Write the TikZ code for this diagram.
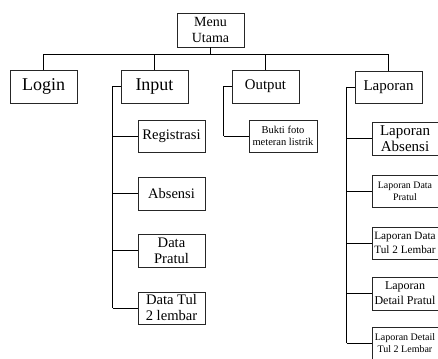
\documentclass[tikz,border=0pt]{standalone}
\usepackage{fontspec}
\setmainfont{Liberation Serif}
\begin{document}
\begin{tikzpicture}[x=1pt,y=-1pt,
  box/.style={draw=black!85,line width=0.8pt,inner sep=0pt,align=center,
    minimum width=67pt,minimum height=33pt,fill=white},
  fs/.style 2 args={font=\fontsize{#1}{#2}\selectfont},
  link/.style={draw=black,line width=0.8pt},
  spine/.style={draw=black,line width=1.2pt}]
\useasboundingbox (0,0) rectangle (438,358);
% level 0
\node[box,fs={14}{16},minimum height=34pt] (menu) at (210.5,30) {Menu\\Utama};
% level 1
\node[box,fs={18}{20}] (login) at (43.5,86.5) {Login};
\node[box,fs={18}{20}] (input) at (154.5,86.5) {Input};
\node[box,fs={14.8}{16}] (output) at (265.5,86.5) {Output};
\node[box,fs={15}{16},minimum height=32pt] (laporan) at (388.5,87) {Laporan};
% input children
\node[box,fs={14.6}{16},minimum height=32pt] (reg) at (171.5,136) {Registrasi};
\node[box,fs={14.5}{16}] (abs) at (171.5,193.5) {Absensi};
\node[box,fs={14.6}{16}] (dpr) at (171.5,250.5) {Data\\Pratul};
\node[box,fs={14.6}{16},minimum height=32pt] (dtul) at (171.5,308) {Data Tul\\2 lembar};
% output child
\node[box,fs={10.5}{12},minimum width=68pt,minimum height=32pt] (bukti) at (283,136) {Bukti foto\\meteran listrik};
% laporan children
\node[box,fs={15}{15.5},minimum width=66pt] (labs) at (405,138.5) {Laporan\\Absensi};
\node[box,fs={9.9}{12},minimum width=66pt,minimum height=32pt] (ldp) at (405,191) {Laporan Data\\Pratul};
\node[box,fs={11.2}{14},minimum width=66pt,minimum height=32pt] (ldt) at (405,243) {Laporan Data\\Tul 2 Lembar};
\node[box,fs={12}{15},minimum width=66pt] (ldetp) at (405,293.5) {Laporan\\Detail Pratul};
\node[box,fs={10}{12},minimum width=66pt,minimum height=32pt] (ldett) at (405,343) {Laporan Detail\\Tul 2 Lembar};
% tree connectors
\draw[link] (menu.south) -- ++(0,7) coordinate (bus);
\draw[link] (login.north) |- (bus);
\draw[link] (input.north) |- (bus);
\draw[link] (output.north) |- (bus);
\draw[link] (laporan.north) |- (bus);
% input spine
\draw[link] (input.west) -- ++(-8,0) coordinate (isp);
\draw[spine] (isp) -- (isp |- dtul.west);
\draw[link] (isp |- reg.west) -- (reg.west);
\draw[link] (isp |- abs.west) -- (abs.west);
\draw[link] (isp |- dpr.west) -- (dpr.west);
\draw[link] (isp |- dtul.west) -- (dtul.west);
% output spine
\draw[link] (output.west) -- ++(-8,0) coordinate (osp);
\draw[spine] (osp) -- (osp |- bukti.west);
\draw[link] (osp |- bukti.west) -- (bukti.west);
% laporan spine
\draw[link] (laporan.west) -- ++(-8,0) coordinate (lsp);
\draw[spine] (lsp) -- (lsp |- ldett.west);
\draw[link] (lsp |- labs.west) -- (labs.west);
\draw[link] (lsp |- ldp.west) -- (ldp.west);
\draw[link] (lsp |- ldt.west) -- (ldt.west);
\draw[link] (lsp |- ldetp.west) -- (ldetp.west);
\draw[link] (lsp |- ldett.west) -- (ldett.west);
\end{tikzpicture}
\end{document}
